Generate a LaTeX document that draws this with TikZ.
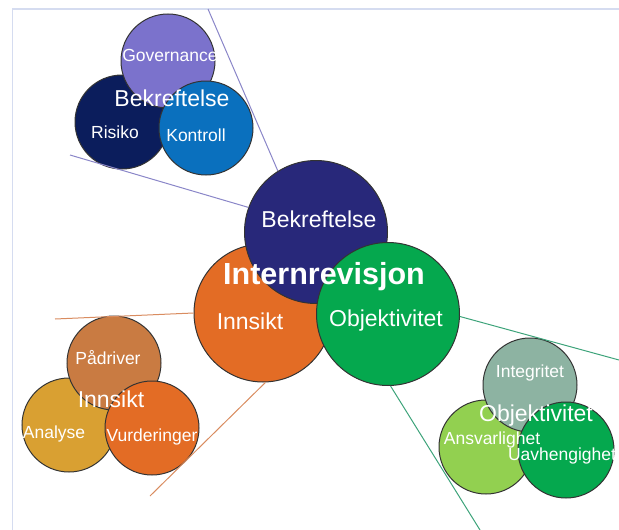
\documentclass[tikz,border=0pt]{standalone}
\usepackage{fontspec}
\setmainfont{Liberation Sans}

\definecolor{frameblue}{HTML}{D5DCF0}
\definecolor{govpurple}{HTML}{7B72CC}
\definecolor{risnavy}{HTML}{0B1D5C}
\definecolor{konblue}{HTML}{0A70BE}
\definecolor{bekindigo}{HTML}{28287A}
\definecolor{insorange}{HTML}{E36C25}
\definecolor{objgreen}{HTML}{05A84E}
\definecolor{padbrown}{HTML}{C97B42}
\definecolor{anagold}{HTML}{D9A032}
\definecolor{intgrey}{HTML}{8DB3A2}
\definecolor{ansgreen}{HTML}{92D050}
\definecolor{linepurple}{HTML}{8A86C8}
\definecolor{lineorange}{HTML}{D98C60}
\definecolor{linegreen}{HTML}{3DA37A}

\begin{document}
\begin{tikzpicture}[x=1pt,y=-1pt,
		disc/.style={circle,draw=black!80,line width=1pt,inner sep=0pt},
		tag/.style={text=white,font=\fontsize{17.5}{18}\selectfont,inner sep=0pt},
		head/.style={text=white,font=\fontsize{23}{24}\selectfont,inner sep=0pt}]
			\def\smalld{94}
			\def\bigd{143}
			
			\useasboundingbox (0,0) rectangle (619,530);
			
			% Slide frame
			\draw[frameblue,line width=1.6pt] (12,9) -- (619,9);
			\draw[frameblue,line width=1pt] (12,9) -- (12,530);
			
			% Bekreftelse group
			\node[disc,fill=risnavy,minimum size=\smalld] (risiko) at (122,122) {};
			\node[disc,fill=govpurple,minimum size=\smalld] (governance) at (168,61) {};
			\node[disc,fill=konblue,minimum size=\smalld] (kontroll) at (206,128) {};
			
			% Innsikt group
			\node[disc,fill=anagold,minimum size=\smalld] (analyse) at (69,425) {};
			\node[disc,fill=padbrown,minimum size=\smalld] (padriver) at (114,363) {};
			\node[disc,fill=insorange,minimum size=\smalld] (vurderinger) at (152,428) {};
			
			% Objektivitet group
			\node[disc,fill=ansgreen,minimum size=\smalld] (ansvarlighet) at (486,447) {};
			\node[disc,fill=intgrey,minimum size=\smalld] (integritet) at (530,385) {};
			\node[disc,fill=objgreen,minimum size=96] (uavhengighet) at (566,450) {};
			
			% Internrevisjon
			\node[disc,fill=insorange,minimum size=138] (innsikt) at (263,313) {};
			\node[disc,fill=bekindigo,minimum size=\bigd] (bekreftelse) at (316,232) {};
			\node[disc,fill=objgreen,minimum size=\bigd] (objektivitet) at (388,314) {};
			
			% Lines out to the groups
			\coordinate (bk-top) at (208,9);
			\coordinate (bk-left) at (70,155);
			\coordinate (in-top) at (55,319);
			\coordinate (in-low) at (150,496);
			\coordinate (ob-top) at (619,360);
			\coordinate (ob-low) at (480,530);
			\draw[linepurple,line width=1pt] (bekreftelse.122) -- (bk-top);
			\draw[linepurple,line width=1pt] (bekreftelse.160) -- (bk-left);
			\draw[lineorange,line width=1pt] (innsikt.180) -- (in-top);
			\draw[lineorange,line width=1pt] (innsikt.-88) -- (in-low);
			\draw[linegreen,line width=1pt] (objektivitet.-2) -- (ob-top);
			\draw[linegreen,line width=1pt] (objektivitet.-88) -- (ob-low);
			
			% Labels
			\node[tag] (t-gov) at (170,55) {Governance};
			\node[head] (t-bek) at (172,98) {Bekreftelse};
			\node[tag] (t-ris) at (115,132) {Risiko};
			\node[tag] (t-kon) at (196,135) {Kontroll};
			
			\node[tag] (t-pad) at (108,358) {Pådriver};
			\node[head] (t-ins) at (111,399) {Innsikt};
			\node[tag] (t-ana) at (54,434) {Analyse};
			\node[tag] (t-vur) at (152,437) {Vurderinger};
			
			\node[tag] (t-int) at (530,373) {Integritet};
			\node[head] (t-obj) at (536,416) {Objektivitet};
			\node[tag] (t-ans) at (492,440) {Ansvarlighet};
			\node[tag] (t-uav) at (562,456) {Uavhengighet};
			
			\node[head] (t-mbek) at (319,219) {Bekreftelse};
			\node[text=white,inner sep=0pt,font=\fontsize{30.5}{32}\selectfont\bfseries] (t-main) at (324,277) {Internrevisjon};
			\node[head] (t-mins) at (250,321) {Innsikt};
			\node[head] (t-mobj) at (386,321) {Objektivitet};
		\end{tikzpicture}
\end{document}
